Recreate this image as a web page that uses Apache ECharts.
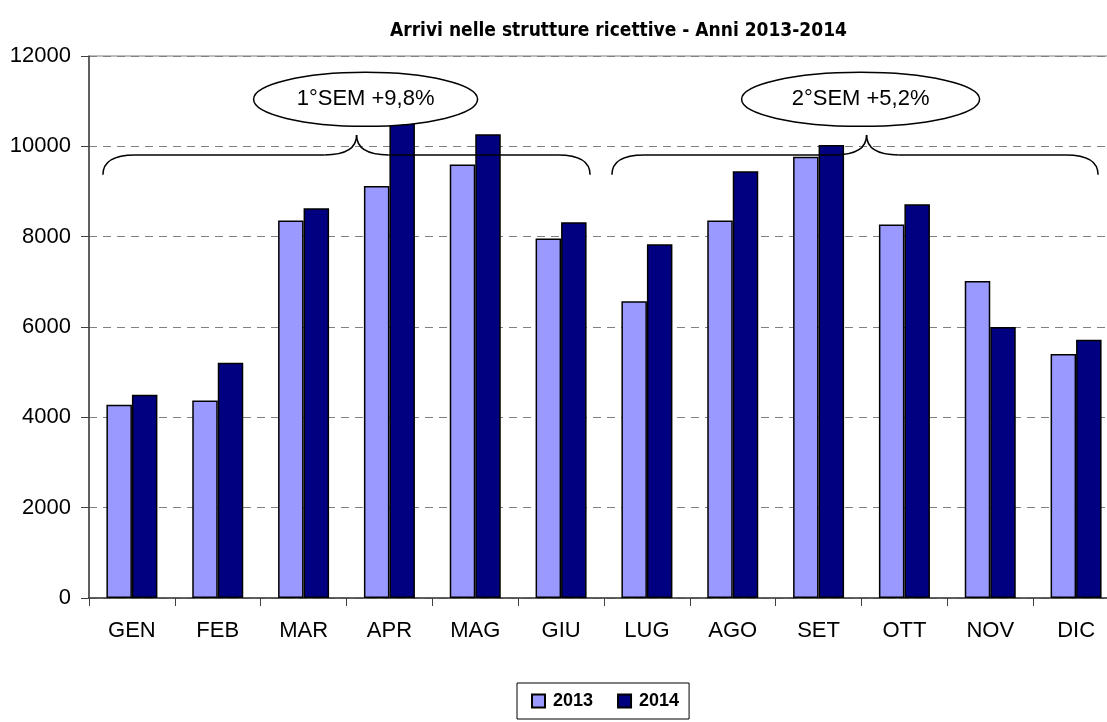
<!DOCTYPE html>
<html>
<head>
<meta charset="utf-8">
<script src="https://cdn.jsdelivr.net/npm/echarts@6/dist/echarts.min.js"></script>
<style>
  html, body { margin: 0; padding: 0; background: #fff; }
  #chart { width: 1107px; height: 722px; }
</style>
</head>
<body>
<div id="chart"></div>
<script>
// dati
const months = ['GEN', 'FEB', 'MAR', 'APR', 'MAG', 'GIU', 'LUG', 'AGO', 'SET', 'OTT', 'NOV', 'DIC']
const arrivi2013 = [4280, 4370, 8360, 9120, 9600, 7960, 6570, 8360, 9770, 8270, 7020, 5400]
const arrivi2014 = [4500, 5210, 8630, 10550, 10270, 8320, 7830, 9450, 10030, 8720, 6000, 5720]
const yTicks = [0, 2000, 4000, 6000, 8000, 10000, 12000]
const semLabels = ['1°SEM +9,8%', '2°SEM +5,2%']

const font = '"Liberation Sans", Arial, sans-serif'
const titleFont = '"DejaVu Sans Condensed", "Liberation Sans", sans-serif'

const chart = echarts.init(document.getElementById('chart'))

chart.setOption({
  animation: false,
  backgroundColor: '#fff',
  title: {
    text: 'Arrivi nelle strutture ricettive - Anni 2013-2014',
    left: 385,
    top: 17,
    textStyle: { fontFamily: titleFont, fontWeight: 'bold', fontSize: 19, color: '#000' }
  },
  legend: {
    data: ['2013', '2014'],
    left: 517,
    top: 683,
    padding: [9, 10, 9, 14],
    itemGap: 24,
    itemWidth: 13,
    itemHeight: 13,
    icon: 'rect',
    borderColor: '#000',
    borderWidth: 1,
    textStyle: { fontFamily: font, fontWeight: 'bold', fontSize: 18, color: '#000', padding: [0, 0, 0, 3] }
  },
  grid: {
    left: 89,
    width: 1030,
    top: 56,
    height: 542,
    outerBoundsMode: 'none',
    show: true,
    borderColor: '#808080',
    borderWidth: 1
  },
  xAxis: {
    type: 'category',
    data: months,
    axisLine: { lineStyle: { color: '#404040', width: 1.5 } },
    axisTick: { show: true, length: 8, lineStyle: { color: '#404040' } },
    axisLabel: { margin: 22, fontFamily: font, fontSize: 22, color: '#000' }
  },
  yAxis: {
    type: 'value',
    min: yTicks[0],
    max: yTicks[yTicks.length - 1],
    interval: 2000,
    axisLine: { show: true, lineStyle: { color: '#404040', width: 1.5 } },
    axisTick: { show: true, length: 8, lineStyle: { color: '#404040' } },
    axisLabel: { margin: 18, fontFamily: font, fontSize: 22, color: '#000', formatter: v => String(v) },
    splitLine: { lineStyle: { color: '#808080', type: [8, 6] } }
  },
  series: [
    {
      name: '2013',
      type: 'bar',
      data: arrivi2013,
      barWidth: 25.5,
      barGap: '0%',
      itemStyle: { color: '#9999FF', borderColor: '#000', borderWidth: 1.5 }
    },
    {
      name: '2014',
      type: 'bar',
      data: arrivi2014,
      barWidth: 25.5,
      itemStyle: { color: '#000080', borderColor: '#000', borderWidth: 1.5 }
    }
  ]
})

// graffe ed ellissi dei semestri, posizionate dagli assi
const drawBraces = () => {
  const px = i => chart.convertToPixel({ xAxisIndex: 0 }, i)
  const py = v => chart.convertToPixel({ yAxisIndex: 0 }, v)
  const yb = py(9370), yh = py(9810), yt = py(10250)
  const groups = [
    { x0: px(0) - 29, x1: px(5) + 29, xc: px(2) + 53, label: semLabels[0], rx: 112, cx: px(2) + 62 },
    { x0: px(6) - 35, x1: px(11) + 22, xc: px(8) + 48, label: semLabels[1], rx: 119, cx: px(8) + 42 }
  ]
  const stroke = { stroke: '#000', lineWidth: 1.5, fill: null }
  const curve = (x1, y1, cx, cy, x2, y2) => ({
    type: 'bezierCurve', z: 100,
    shape: { x1: x1, y1: y1, cpx1: cx, cpy1: cy, x2: x2, y2: y2 },
    style: stroke
  })
  const line = (x1, x2, y) => ({
    type: 'line', z: 100,
    shape: { x1: x1, y1: y, x2: x2, y2: y },
    style: stroke
  })
  const elements = []
  groups.forEach(g => {
    elements.push(curve(g.x0, yb, g.x0, yh, g.x0 + 32, yh))
    elements.push(line(g.x0 + 32, g.xc - 32, yh))
    elements.push(curve(g.xc - 32, yh, g.xc, yh, g.xc, yt))
    elements.push(curve(g.xc, yt, g.xc, yh, g.xc + 32, yh))
    elements.push(line(g.xc + 32, g.x1 - 32, yh))
    elements.push(curve(g.x1 - 32, yh, g.x1, yh, g.x1, yb))
    const cy = py(11040)
    elements.push({
      type: 'ellipse',
      z: 101,
      shape: { cx: g.cx, cy: cy, rx: g.rx, ry: 27 },
      style: { fill: '#fff', stroke: '#000', lineWidth: 1.5 }
    })
    elements.push({
      type: 'text',
      z: 102,
      x: g.cx,
      y: cy,
      style: {
        text: g.label,
        fontFamily: font,
        fontSize: 22,
        fill: '#000',
        align: 'center',
        verticalAlign: 'middle'
      }
    })
  })
  chart.setOption({ graphic: elements })
}
drawBraces()
</script>
</body>
</html>
